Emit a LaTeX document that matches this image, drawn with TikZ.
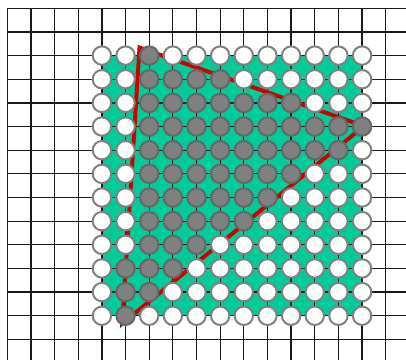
\documentclass[tikz,border=0pt]{standalone}
\usepackage{xcolor}
\definecolor{Col1}{RGB}{0,204,153}
\definecolor{Col2}{RGB}{204,0,0}
\definecolor{Col3}{RGB}{128,128,128}
\usepackage{tikz}
\tikzstyle{NodeW}=[circle,draw=Col3,fill=white,line width=1.2pt,
minimum size=3.9mm,inner sep=0pt]
\tikzstyle{NodeG}=[circle,draw=Col3!80!black,fill=Col3,line width=1.2pt,
minimum size=3.9mm,inner sep=0pt]
\tikzstyle{Edge}=[draw=Col2,line width=2.4pt]
\tikzstyle{Grid}=[draw=black!90,line width=0.75pt]

\begin{document}
\begin{tikzpicture}[x=5mm,y=5mm]
        \useasboundingbox (-0.309,0.351) rectangle (16.858,-14.871);
        \clip (-0.309,0.351) rectangle (16.858,-14.871);
        \fill[Col1] (4,-2) rectangle (15,-13);
        \foreach \i in {0,...,16} \draw[Grid] (\i,0) -- (\i,-15);
        \foreach \j in {0,...,14} \draw[Grid] (0,-\j) -- (17,-\j);
        \coordinate (t) at (5.59,-1.66);
        \coordinate (r) at (15.08,-4.98);
        \coordinate (b) at (4.86,-13.33);
        \draw[Edge] (t) -- (r) -- (b) -- cycle;
        % row / first grey / last grey
        \foreach \r/\a/\b in {0/2/2,1/2/5,2/2/8,3/2/11,4/2/10,5/2/8,
            6/2/7,7/2/6,8/2/4,9/1/3,10/1/2,11/1/1}{
            \foreach \c in {0,...,11}{
                \ifnum\c<\a \def\kind{NodeW}\else
                \ifnum\c>\b \def\kind{NodeW}\else\def\kind{NodeG}\fi\fi
                \node[\kind](n\r-\c)at(\c+4,-\r-2){};
            }
        }
    \end{tikzpicture}
\end{document}
